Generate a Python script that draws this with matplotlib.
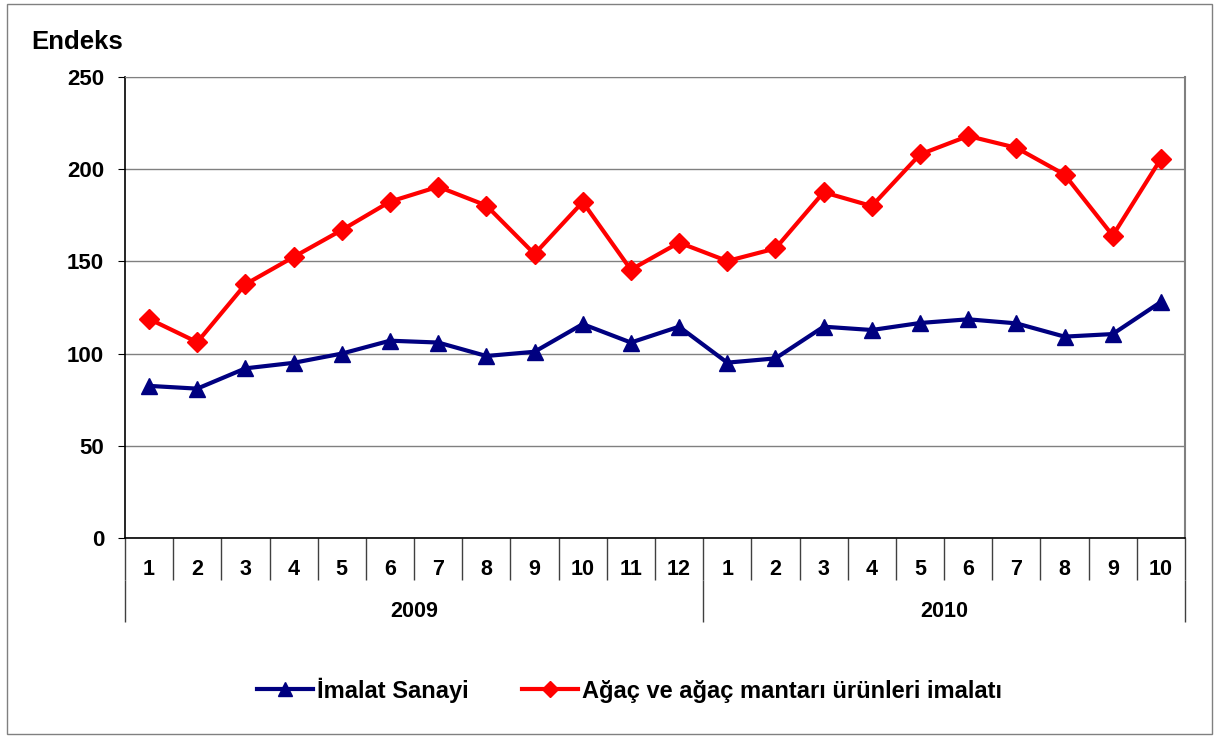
import numpy as np
import matplotlib
matplotlib.use("Agg")
import matplotlib.pyplot as plt
from matplotlib.patches import Rectangle

plt.rcParams['font.family'] = ['Liberation Sans', 'DejaVu Sans']
plt.rcParams['font.weight'] = 'bold'

months = ['1', '2', '3', '4', '5', '6', '7', '8', '9', '10', '11', '12',
          '1', '2', '3', '4', '5', '6', '7', '8', '9', '10']
years = ['2009', '2010']
year_counts = [12, 10]

imalat = [82.5, 81, 92, 95, 100, 107, 106, 98.7, 101, 116, 106, 114.6,
          95.1, 97.4, 114.6, 112.8, 116.6, 118.6, 116.4, 109.2, 110.6, 128]
agac = [118.8, 106.2, 137.6, 152.4, 167, 182.4, 190.5, 180.3, 154, 182.2, 145.5, 160.2,
        150.2, 157, 187.5, 180, 208, 218, 211.6, 197.1, 164, 205.6]

name_blue = 'İmalat Sanayi'
name_red = 'Ağaç ve ağaç mantarı ürünleri imalatı'

fig = plt.figure(figsize=(12.18, 7.36), dpi=100)
fig.patches.append(Rectangle((0.006, 0.003), 0.989, 0.992, transform=fig.transFigure,
                             fill=False, edgecolor='#808080', linewidth=1))

ax = fig.add_axes([0.1026, 0.269, 0.8703, 0.6264])
x = np.arange(len(months))

l1, = ax.plot(x, imalat, color='#000080', lw=3, marker='^', markersize=12, clip_on=False, zorder=3)
l2, = ax.plot(x, agac, color='#FF0000', lw=3, marker='D', markersize=10, clip_on=False, zorder=3)

ax.set_xlim(-0.5, len(months) - 0.5)
ax.set_ylim(0, 250)
ax.set_yticks(np.arange(0, 251, 50))
ax.yaxis.grid(True, color='#808080', lw=1)
ax.set_axisbelow(True)
ax.tick_params(axis='y', labelsize=16, length=5, color='black', pad=10)

for s in ['left', 'bottom']:
    ax.spines[s].set_color('black')
    ax.spines[s].set_linewidth(1.2)
ax.spines['top'].set_color('#808080')
ax.spines['right'].set_color('#808080')
ax.spines['right'].set_linewidth(1.5)

# month level
ax.set_xticks(np.arange(-0.5, len(months), 1))
ax.set_xticklabels([])
ax.tick_params(axis='x', which='major', length=30, color='#404040', width=1)
ax.set_xticks(x, minor=True)
ax.set_xticklabels(months, minor=True, fontsize=15.5)
ax.tick_params(axis='x', which='minor', length=0, pad=15)

# year level
edges = np.concatenate([[0], np.cumsum(year_counts)]) - 0.5
sec = ax.secondary_xaxis(-0.091)
sec.spines['bottom'].set_visible(False)
sec.set_xticks(edges)
sec.set_xticklabels([])
sec.tick_params(axis='x', which='major', length=30, color='#404040', width=1)
sec.set_xticks((edges[:-1] + edges[1:]) / 2, minor=True)
sec.set_xticklabels(years, minor=True, fontsize=15.5)
sec.tick_params(axis='x', which='minor', length=0, pad=15)

fig.text(0.026, 0.943, 'Endeks', fontsize=18.5, fontweight='bold', va='center')

fig.legend([l1, l2], [name_blue, name_red], loc='center', bbox_to_anchor=(0.517, 0.0625),
           ncol=2, frameon=False, fontsize=17, handlelength=2.35, columnspacing=2.25,
           handletextpad=0.2, markerscale=0.8)

fig.savefig('out.png', dpi=100)
